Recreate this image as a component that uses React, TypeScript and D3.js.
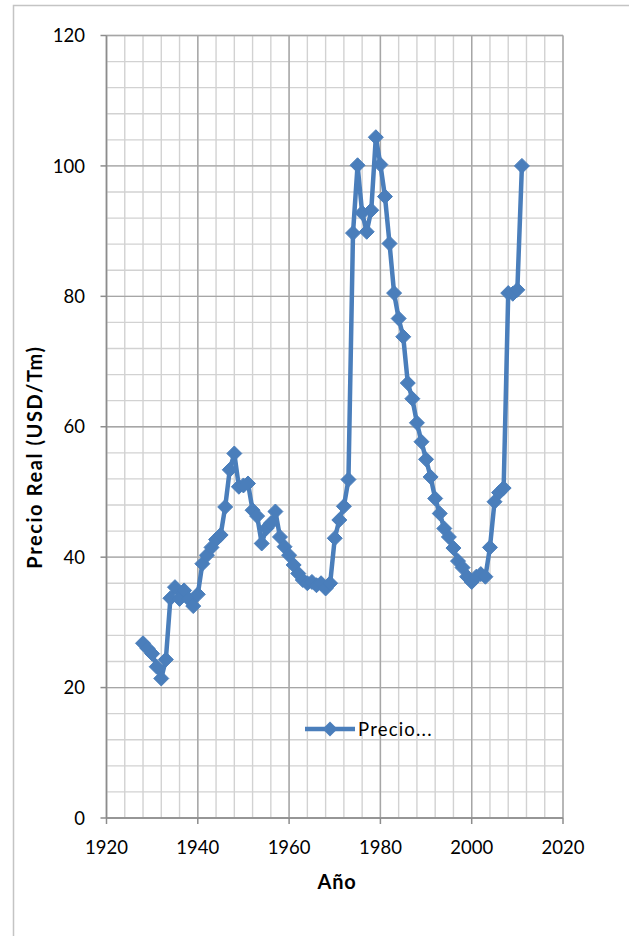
import React from "react";
import * as d3 from "d3";

const years: number[] = [
  1928, 1929, 1930, 1931, 1932, 1933, 1934, 1935, 1936, 1937, 1938, 1939,
  1940, 1941, 1942, 1943, 1944, 1945, 1946, 1947, 1948, 1949, 1950, 1951,
  1952, 1953, 1954, 1955, 1956, 1957, 1958, 1959, 1960, 1961, 1962, 1963,
  1964, 1965, 1966, 1967, 1968, 1969, 1970, 1971, 1972, 1973, 1974, 1975,
  1976, 1977, 1978, 1979, 1980, 1981, 1982, 1983, 1984, 1985, 1986, 1987,
  1988, 1989, 1990, 1991, 1992, 1993, 1994, 1995, 1996, 1997, 1998, 1999,
  2000, 2001, 2002, 2003, 2004, 2005, 2006, 2007, 2008, 2009, 2010, 2011,
];

const precio: number[] = [
  26.8, 26.0, 25.2, 23.2, 21.4, 24.3, 33.7, 35.4, 33.6, 34.9, 33.6, 32.5,
  34.3, 39.0, 40.3, 41.5, 42.7, 43.4, 47.7, 53.4, 55.9, 50.8, 51.0, 51.3,
  47.2, 46.3, 42.1, 44.4, 45.2, 47.0, 43.1, 41.6, 40.3, 38.8, 37.5, 36.5,
  36.0, 36.2, 35.7, 36.0, 35.2, 36.0, 42.9, 45.7, 47.8, 51.9, 89.7, 100.1,
  92.8, 89.9, 93.2, 104.4, 100.2, 95.3, 88.1, 80.5, 76.6, 73.8, 66.7, 64.3,
  60.6, 57.7, 55.0, 52.3, 49.0, 46.7, 44.4, 43.1, 41.4, 39.4, 38.4, 37.0,
  36.2, 37.0, 37.4, 37.0, 41.5, 48.5, 49.9, 50.6, 80.5, 80.4, 81.0, 100.0,
];

const xTicks: number[] = [1920, 1940, 1960, 1980, 2000, 2020];
const yTicks: number[] = [0, 20, 40, 60, 80, 100, 120];
const xMinor: number[] = d3.range(1920, 2021, 4);
const yMinor: number[] = d3.range(0, 121, 4);

const seriesName = "Precio...";
const xTitle = "Año";
const yTitle = "Precio Real (USD/Tm)";

const W = 629;
const H = 936;
const plot = { left: 106.5, right: 563, top: 35.5, bottom: 818 };
const blue = "#4a7ebb";
const font = "Lato, 'Open Sans', sans-serif";

function diamond(cx: number, cy: number, r: number) {
  return `M${cx},${cy - r}L${cx + r},${cy}L${cx},${cy + r}L${cx - r},${cy}Z`;
}

export default function App() {
  const x = d3.scaleLinear().domain([1920, 2020]).range([plot.left, plot.right]);
  const y = d3.scaleLinear().domain([0, 120]).range([plot.bottom, plot.top]);
  const pts = years.map((yr, i) => [x(yr), y(precio[i])] as [number, number]);
  const line = d3.line<[number, number]>()(pts) || "";

  return (
    <svg
      width={W}
      height={H}
      style={{ position: "absolute", left: 0, top: 0, background: "#fff" }}
    >
      <rect x={0} y={0} width={W} height={H} fill="#fff" />
      <rect x={13.5} y={5.5} width={800} height={1000} fill="none" stroke="#c4c4c4" strokeWidth={1.5} />

      {/* minor grid */}
      {xMinor.map((v) => (
        <line key={"xm" + v} x1={x(v)} x2={x(v)} y1={plot.top} y2={plot.bottom} stroke="#d2d2d2" strokeWidth={1.4} />
      ))}
      {yMinor.map((v) => (
        <line key={"ym" + v} x1={plot.left} x2={plot.right} y1={y(v)} y2={y(v)} stroke="#d2d2d2" strokeWidth={1.4} />
      ))}
      {/* major grid */}
      {xTicks.map((v) => (
        <line key={"xM" + v} x1={x(v)} x2={x(v)} y1={plot.top} y2={plot.bottom} stroke="#a6a6a6" strokeWidth={1.4} />
      ))}
      {yTicks.map((v) => (
        <line key={"yM" + v} x1={plot.left} x2={plot.right} y1={y(v)} y2={y(v)} stroke="#a6a6a6" strokeWidth={1.4} />
      ))}

      {/* axes */}
      <line x1={plot.left} x2={plot.left} y1={plot.top} y2={plot.bottom} stroke="#8c8c8c" strokeWidth={1.5} />
      <line x1={plot.left} x2={plot.right} y1={plot.bottom} y2={plot.bottom} stroke="#8c8c8c" strokeWidth={1.5} />
      {yTicks.map((v) => (
        <g key={"yt" + v}>
          <line x1={plot.left - 6} x2={plot.left} y1={y(v)} y2={y(v)} stroke="#8c8c8c" strokeWidth={1.5} />
          <text x={85} y={y(v)} dy="0.36em" textAnchor="end" fontFamily={font} fontSize={18.5} fill="#000">
            {v}
          </text>
        </g>
      ))}
      {xTicks.map((v) => (
        <g key={"xt" + v}>
          <line x1={x(v)} x2={x(v)} y1={plot.bottom} y2={plot.bottom + 6} stroke="#8c8c8c" strokeWidth={1.5} />
          <text x={x(v)} y={847} dy="0.36em" textAnchor="middle" fontFamily={font} fontSize={18.5} fill="#000">
            {v}
          </text>
        </g>
      ))}

      {/* titles */}
      <text x={337} y={882} dy="0.36em" textAnchor="middle" fontFamily={font} fontWeight="bold" fontSize={20} letterSpacing={0.8} fill="#000">
        {xTitle}
      </text>
      <text
        transform={`translate(35,457) rotate(-90)`}
        dy="0.36em"
        textAnchor="middle"
        fontFamily={font}
        fontWeight="bold"
        fontSize={20}
        letterSpacing={1.6}
        fill="#000"
      >
        {yTitle}
      </text>

      {/* series */}
      <path d={line} fill="none" stroke={blue} strokeWidth={4.5} strokeLinejoin="round" />
      {pts.map(([cx, cy], i) => (
        <path key={"m" + i} d={diamond(cx, cy, 7.5)} fill={blue} stroke={blue} strokeWidth={1} />
      ))}

      {/* legend */}
      <line x1={305} x2={355} y1={729} y2={729} stroke={blue} strokeWidth={4.5} />
      <path d={diamond(330, 729, 7.5)} fill={blue} />
      <text x={358} y={729} dy="0.36em" fontFamily={font} fontSize={18.5} letterSpacing={1.2} fill="#000">
        {seriesName}
      </text>
    </svg>
  );
}
